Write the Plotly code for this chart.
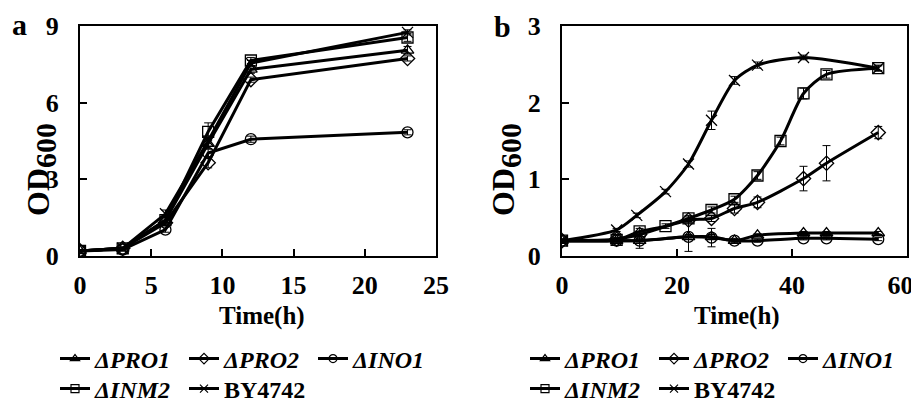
import plotly.graph_objects as go

# ---------------- data ----------------
names = ["<i>ΔPRO1</i>", "<i>ΔPRO2</i>", "<i>ΔINO1</i>", "<i>ΔINM2</i>", "BY4742"]
symbols = ["triangle-up-open", "diamond-open", "circle-open", "square-open", "x-thin"]

# panel a
time_a = [0, 3, 6, 9, 12, 23]
a_pro1 = [0.2, 0.3, 1.4, 4.4, 7.3, 8.05]
a_pro2 = [0.2, 0.3, 1.3, 3.65, 6.9, 7.73]
a_ino1 = [0.2, 0.25, 1.03, 4.03, 4.57, 4.84]
a_inm2 = [0.2, 0.3, 1.4, 4.86, 7.65, 8.55]
a_by = [0.2, 0.3, 1.65, 4.5, 7.55, 8.75]
ea_pro1 = [0.02, 0.02, 0.1, 0.2, 0.15, 0.15]
ea_pro2 = [0.02, 0.02, 0.1, 0.2, 0.1, 0.1]
ea_ino1 = [0.02, 0.02, 0.1, 0.15, 0.12, 0.1]
ea_inm2 = [0.02, 0.03, 0.1, 0.35, 0.12, 0.15]
ea_by = [0.02, 0.03, 0.15, 0.2, 0.1, 0.1]

# panel b
time_b = [0, 9.5, 13.5, 22, 26, 30, 34, 42, 46, 55]
time_b_inm2 = [0, 9.5, 13.5, 18, 22, 26, 30, 34, 38, 42, 46, 55]
time_b_by = [0, 9.5, 13, 18, 22, 26, 30, 34, 42, 55]
b_pro1 = [0.2, 0.2, 0.2, 0.25, 0.25, 0.2, 0.27, 0.3, 0.3, 0.3]
b_pro2 = [0.2, 0.22, 0.28, 0.47, 0.49, 0.62, 0.7, 1.01, 1.21, 1.61]
b_ino1 = [0.2, 0.2, 0.2, 0.25, 0.24, 0.2, 0.2, 0.23, 0.23, 0.22]
b_inm2 = [0.2, 0.21, 0.32, 0.39, 0.49, 0.6, 0.74, 1.05, 1.5, 2.12, 2.37, 2.45]
b_by = [0.2, 0.34, 0.53, 0.84, 1.2, 1.77, 2.29, 2.49, 2.59, 2.45]
eb_pro1 = [0.02, 0.02, 0.03, 0.03, 0.03, 0.02, 0.02, 0.02, 0.02, 0.02]
eb_pro2 = [0.02, 0.02, 0.03, 0.04, 0.04, 0.06, 0.07, 0.16, 0.23, 0.08]
eb_ino1 = [0.02, 0.02, 0.1, 0.19, 0.12, 0.03, 0.02, 0.02, 0.02, 0.02]
eb_inm2 = [0.02, 0.02, 0.04, 0.03, 0.04, 0.04, 0.04, 0.05, 0.05, 0.07, 0.05, 0.04]
eb_by = [0.02, 0.02, 0.03, 0.03, 0.04, 0.12, 0.05, 0.04, 0.03, 0.03]

x_ticks_a = [0, 5, 10, 15, 20, 25]
y_ticks_a = [0, 3, 6, 9]
x_ticks_b = [0, 20, 40, 60]
x_labels_b = ["0", "20", "40", "60\u2002"]  # en space keeps the edge label inside the page
y_ticks_b = [0, 1, 2, 3]

FONT = "Liberation Serif"
OFF = 8  # default page body margin
W, H = 919 - OFF, 402 - OFF
ML, MR, MT, MB = 80 - OFF, 12, 26 - OFF, 146
PW = W - ML - MR
PH = H - MT - MB


def px_x(px):
    # page pixel -> paper x
    return (px - OFF - ML) / PW


def px_y(py):
    # page pixel -> paper y
    return (H - MB - (py - OFF)) / PH


fig = go.Figure()

series_a = [(a_pro1, ea_pro1), (a_pro2, ea_pro2), (a_ino1, ea_ino1), (a_inm2, ea_inm2), (a_by, ea_by)]
series_b = [(time_b, b_pro1, eb_pro1), (time_b, b_pro2, eb_pro2), (time_b, b_ino1, eb_ino1),
            (time_b_inm2, b_inm2, eb_inm2), (time_b_by, b_by, eb_by)]

for i, (yv, ev) in enumerate(series_a):
    fig.add_trace(go.Scatter(
        x=time_a, y=yv, mode="lines+markers", xaxis="x", yaxis="y",
        line=dict(color="black", width=3),
        marker=dict(symbol=symbols[i], size=11, color="black", line=dict(color="black", width=1.3)),
        error_y=dict(type="data", array=ev, color="black", thickness=1, width=4),
        showlegend=False))

for i, (tv, yv, ev) in enumerate(series_b):
    fig.add_trace(go.Scatter(
        x=tv, y=yv, mode="lines+markers", xaxis="x2", yaxis="y2",
        line=dict(color="black", width=3, shape="spline", smoothing=0.7),
        marker=dict(symbol=symbols[i], size=11, color="black", line=dict(color="black", width=1.3)),
        error_y=dict(type="data", array=ev, color="black", thickness=1, width=4),
        showlegend=False))

# legend-only entries
legend_ids_a = ["legend", "legend", "legend", "legend2", "legend2"]
legend_ids_b = ["legend3", "legend3", "legend3", "legend4", "legend4"]
for ids, xa, ya in [(legend_ids_a, "x", "y"), (legend_ids_b, "x2", "y2")]:
    for i in range(5):
        fig.add_trace(go.Scatter(
            x=[None], y=[None], mode="lines+markers", xaxis=xa, yaxis=ya,
            name=names[i], legend=ids[i],
            line=dict(color="black", width=3),
            marker=dict(symbol=symbols[i], size=8, color="black", line=dict(color="black", width=1.2)),
            showlegend=True))

tickfont = dict(family=FONT, size=26, color="black", weight="bold")
axis_common = dict(showline=True, linewidth=2, linecolor="black", mirror=True,
                   ticks="inside", ticklen=7, tickwidth=2, tickcolor="black",
                   showgrid=False, zeroline=False, tickfont=tickfont,
                   ticklabeloverflow="allow")

dom_a = [0, (436 - OFF - ML) / PW]
dom_b = [(562 - OFF - ML) / PW, 1]

leg_common = dict(orientation="h", xanchor="left", yanchor="middle",
                  font=dict(family=FONT, size=24, color="black", weight="bold"),
                  bgcolor="rgba(0,0,0,0)", itemwidth=30, entrywidth=84,
                  entrywidthmode="pixels", tracegroupgap=0, traceorder="normal")

fig.update_layout(
    width=W, height=H,
    margin=dict(l=ML, r=MR, t=MT, b=MB, autoexpand=False),
    paper_bgcolor="white", plot_bgcolor="white",
    font=dict(family=FONT, color="black"),
    xaxis=dict(domain=dom_a, range=[0, 25], tickvals=x_ticks_a, anchor="y",
               ticklabelstandoff=5, **axis_common),
    yaxis=dict(domain=[0, 1], range=[0, 9], tickvals=y_ticks_a, anchor="x",
               ticklabelstandoff=14, **axis_common),
    xaxis2=dict(domain=dom_b, range=[0, 60], tickvals=x_ticks_b, ticktext=x_labels_b,
                anchor="y2", ticklabelstandoff=5, **axis_common),
    yaxis2=dict(domain=[0, 1], range=[0, 3], tickvals=y_ticks_b, anchor="x2",
                ticklabelstandoff=14, **axis_common),
    legend=dict(x=px_x(55), y=px_y(359), **leg_common),
    legend2=dict(x=px_x(55), y=px_y(389), **leg_common),
    legend3=dict(x=px_x(525), y=px_y(359), **leg_common),
    legend4=dict(x=px_x(525), y=px_y(389), **leg_common),
)

annots = [
    dict(text="a", x=px_x(20), y=px_y(24), size=30),
    dict(text="b", x=px_x(503), y=px_y(26), size=30),
    dict(text="Time(h)", x=px_x(262), y=px_y(316), size=25),
    dict(text="Time(h)", x=px_x(737), y=px_y(316), size=25),
]
for a in annots:
    fig.add_annotation(text=a["text"], x=a["x"], y=a["y"], xref="paper", yref="paper",
                       xanchor="center", yanchor="middle", showarrow=False,
                       font=dict(family=FONT, size=a["size"], color="black", weight="bold"))

for xc in [41, 506]:
    fig.add_annotation(text="OD<sub><span style='font-size:30px'>600</span></sub>",
                       x=px_x(xc), y=px_y(170), xref="paper", yref="paper",
                       xanchor="center", yanchor="middle", showarrow=False, textangle=-90,
                       font=dict(family=FONT, size=32, color="black", weight="bold"))

fig.write_html("out.html")
